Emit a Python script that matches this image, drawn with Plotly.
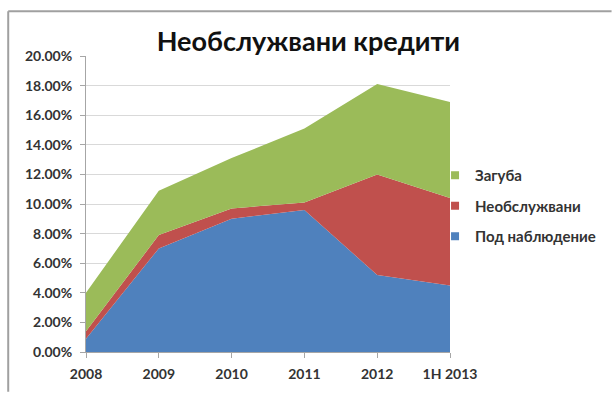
import plotly.graph_objects as go

categories = ["2008", "2009", "2010", "2011", "2012", "1H 2013"]
pod_nablyudenie = [0.009, 0.070, 0.090, 0.096, 0.052, 0.045]
neobsluzhvani = [0.005, 0.009, 0.007, 0.005, 0.068, 0.059]
zaguba = [0.026, 0.030, 0.034, 0.050, 0.061, 0.065]
y_ticks = [0.0, 0.02, 0.04, 0.06, 0.08, 0.10, 0.12, 0.14, 0.16, 0.18, 0.20]

series = [
    ("Под наблюдение", pod_nablyudenie, "#4F81BD"),
    ("Необслужвани", neobsluzhvani, "#C0504D"),
    ("Загуба", zaguba, "#9BBB59"),
]

fig = go.Figure()
for name, vals, color in series:
    fig.add_trace(go.Scatter(
        x=categories, y=vals, name=name, stackgroup="one",
        mode="lines", line=dict(width=0, color=color),
        fillcolor=color, legendgroup=name, showlegend=False,
    ))
# legend entries with small square keys (no data drawn), listed top to bottom
for name, vals, color in reversed(series):
    fig.add_trace(go.Scatter(
        x=[None], y=[None], name=name, mode="markers",
        marker=dict(symbol="square", size=8, color=color),
        legendgroup="leg_" + name, showlegend=True,
    ))

FONT = "Lato"
W, H = 613, 394
L, R, T, B = 86, 162, 56, 40
pw, ph = W - L - R, H - T - B

fig.update_layout(
    width=W, height=H,
    margin=dict(l=L, r=R, t=T, b=B),
    paper_bgcolor="white", plot_bgcolor="white",
    font=dict(family=FONT, color="#333333"),
    title=dict(text="Необслужвани кредити", x=(309 - L) / pw, xref="paper",
               xanchor="center", y=1 - 42 / H, yanchor="middle",
               font=dict(size=27, family=FONT, weight="bold", color="#111111")),
    showlegend=True,
    legend=dict(x=(436 - L) / pw, xanchor="left", y=(354 - 207) / ph, yanchor="middle",
                traceorder="grouped", tracegroupgap=8,
                font=dict(size=15, family=FONT, weight="bold", color="#333333"),
                itemwidth=30, bgcolor="rgba(0,0,0,0)"),
    xaxis=dict(type="category", range=[0, 5], showgrid=False,
               showline=True, linecolor="#A6A6A6", linewidth=1,
               ticks="outside", ticklen=5, tickcolor="#A6A6A6",
               ticklabelstandoff=4,
               tickfont=dict(size=14, family=FONT, weight="bold", color="#333333"),
               fixedrange=True),
    yaxis=dict(range=[0, 0.20], tickvals=y_ticks, tickformat=".2%",
               showgrid=True, gridcolor="#D9D9D9", gridwidth=1,
               showline=True, linecolor="#A6A6A6", linewidth=1,
               ticks="outside", ticklen=5, tickcolor="#A6A6A6",
               ticklabelstandoff=5,
               tickfont=dict(size=14, family=FONT, weight="bold", color="#333333"),
               zeroline=False, fixedrange=True),
    shapes=[
        dict(type="line", xref="paper", yref="paper",
             x0=(8 - L) / pw, x1=(W - L) / pw, y0=1 + (T - 11) / ph, y1=1 + (T - 11) / ph,
             line=dict(color="#A0A0A0", width=2)),
        dict(type="line", xref="paper", yref="paper",
             x0=(8 - L) / pw, x1=(8 - L) / pw, y0=1 + (T - 11) / ph, y1=-B / ph,
             line=dict(color="#A0A0A0", width=2)),
    ],
)

fig.write_html("out.html")
